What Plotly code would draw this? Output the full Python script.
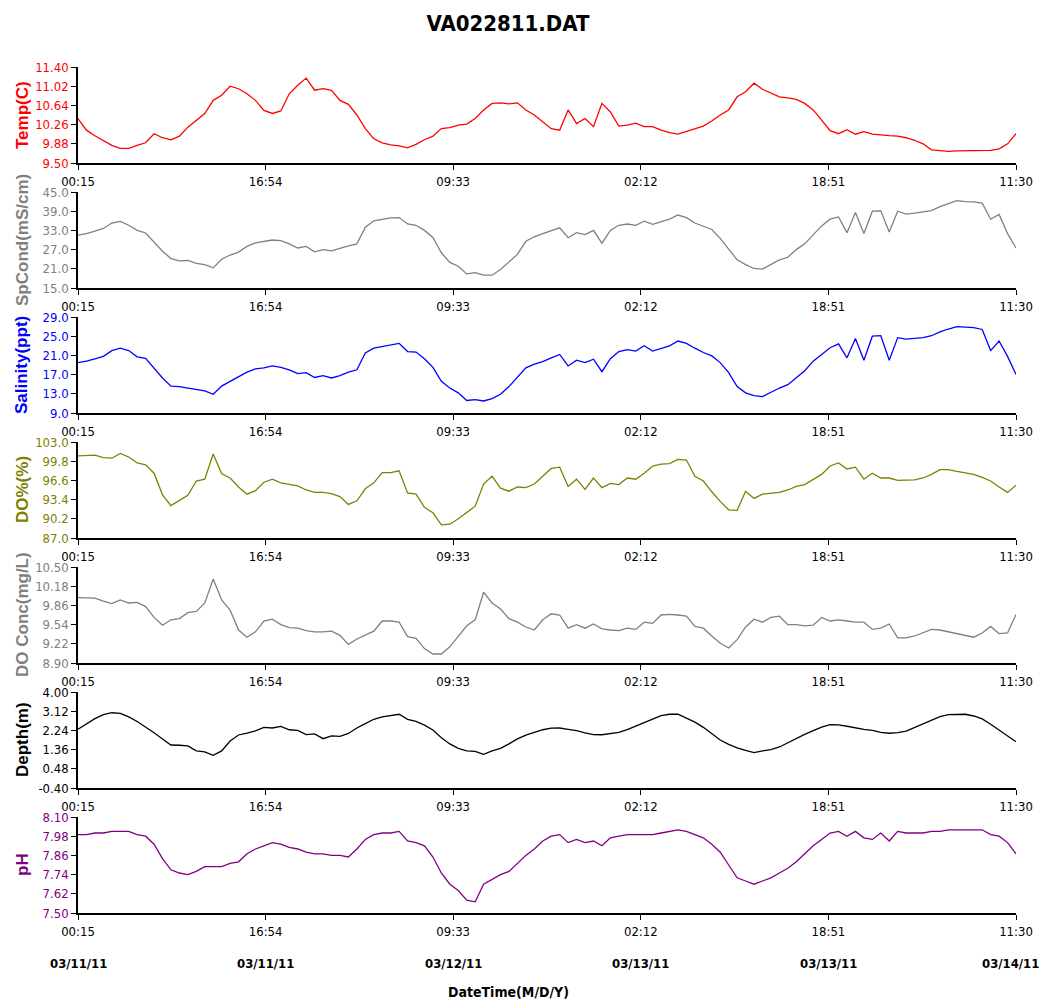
import pandas as pd
import plotly.graph_objects as go

START = "2011-03-11 00:15"
END = "2011-03-14 11:30"
TIME_LABELS = ["00:15", "16:54", "09:33", "02:12", "18:51", "11:30"]
DATE_LABELS = ["03/11/11", "03/11/11", "03/12/11", "03/13/11", "03/13/11", "03/14/11"]

temp = [10.38, 10.15, 10.04, 9.94, 9.85, 9.79, 9.79, 9.85, 9.90, 10.08,
        10.00, 9.96, 10.03, 10.21, 10.34, 10.48, 10.74, 10.84, 11.02, 10.97,
        10.87, 10.74, 10.54, 10.48, 10.53, 10.87, 11.04, 11.18, 10.94, 10.97,
        10.94, 10.74, 10.66, 10.45, 10.18, 9.98, 9.90, 9.86, 9.84, 9.80,
        9.87, 9.96, 10.03, 10.18, 10.20, 10.25, 10.27, 10.38, 10.55, 10.68,
        10.69, 10.67, 10.69, 10.55, 10.45, 10.31, 10.18, 10.15, 10.55, 10.28,
        10.38, 10.22, 10.68, 10.51, 10.23, 10.25, 10.29, 10.22, 10.22, 10.15,
        10.10, 10.07, 10.12, 10.18, 10.23, 10.33, 10.45, 10.55, 10.81, 10.91,
        11.08, 10.96, 10.88, 10.81, 10.79, 10.76, 10.68, 10.55, 10.35, 10.14,
        10.08, 10.16, 10.07, 10.12, 10.07, 10.05, 10.04, 10.03, 10.00, 9.95,
        9.88, 9.76, 9.75, 9.73, 9.74, 9.74, 9.75, 9.75, 9.75, 9.78, 9.88, 10.08]

sp_cond = [31.5, 32.0, 32.8, 33.6, 35.3, 35.8, 34.6, 33.0, 32.2, 29.5,
           26.5, 24.2, 23.5, 23.6, 22.7, 22.3, 21.3, 24.0, 25.3, 26.2,
           28.0, 29.1, 29.5, 30.0, 29.8, 28.8, 27.5, 28.0, 26.3, 27.0,
           26.6, 27.5, 28.2, 28.8, 34.0, 36.0, 36.5, 36.9, 37.0, 35.0,
           34.6, 33.0, 30.8, 26.0, 23.0, 21.8, 19.4, 19.8, 19.0, 19.0,
           20.8, 23.3, 25.5, 29.6, 31.0, 32.0, 33.0, 33.8, 30.7, 32.3,
           31.7, 33.0, 29.0, 33.0, 34.6, 35.0, 34.6, 35.9, 34.9, 35.6,
           36.5, 37.8, 37.0, 35.3, 34.2, 33.3, 30.5, 27.0, 23.8, 22.3,
           21.1, 20.9, 22.3, 23.8, 24.6, 27.0, 28.8, 31.5, 34.4, 36.5,
           37.2, 32.3, 38.6, 32.0, 39.0, 39.1, 32.5, 39.0, 38.1, 38.4,
           38.9, 39.2, 40.4, 41.3, 42.3, 42.0, 41.9, 41.5, 36.5, 38.0, 32.0, 27.5]

salinity = [19.5, 19.8, 20.3, 20.8, 22.0, 22.5, 22.0, 20.7, 20.4, 18.3,
            16.3, 14.6, 14.5, 14.2, 13.9, 13.6, 12.9, 14.6, 15.6, 16.5,
            17.5, 18.2, 18.4, 18.8, 18.5, 18.0, 17.2, 17.4, 16.4, 16.8,
            16.3, 16.8, 17.5, 18.0, 21.5, 22.5, 22.8, 23.2, 23.5, 21.8,
            21.7, 20.3, 18.5, 15.6, 14.2, 13.2, 11.6, 11.8, 11.5, 12.0,
            12.9, 14.5, 16.5, 18.4, 19.2, 19.7, 20.5, 21.2, 18.8, 20.0,
            19.5, 20.2, 17.6, 20.3, 21.8, 22.2, 21.9, 23.0, 21.9, 22.4,
            23.0, 24.0, 23.5, 22.5, 21.6, 20.9, 19.5, 17.4, 14.5, 13.2,
            12.6, 12.4, 13.3, 14.2, 14.9, 16.3, 17.8, 19.8, 21.2, 22.6,
            23.4, 20.5, 24.5, 20.0, 25.0, 25.1, 20.0, 24.7, 24.4, 24.5,
            24.7, 25.1, 25.9, 26.5, 27.0, 26.9, 26.8, 26.4, 22.0, 24.0, 20.8, 17.0]

do_pct = [100.7, 100.7, 100.8, 100.4, 100.3, 101.1, 100.5, 99.5, 99.2, 97.8,
          94.2, 92.4, 93.2, 94.1, 96.5, 96.8, 101.0, 97.7, 97.0, 95.5,
          94.3, 94.9, 96.3, 96.8, 96.2, 95.9, 95.7, 95.0, 94.6, 94.6,
          94.4, 93.9, 92.6, 93.2, 95.2, 96.2, 97.9, 97.9, 98.2, 94.5,
          94.3, 92.1, 91.2, 89.2, 89.3, 90.2, 91.2, 92.3, 96.0, 97.3,
          95.3, 94.8, 95.5, 95.4, 96.0, 97.3, 98.6, 98.8, 95.6, 96.8,
          95.1, 97.0, 95.4, 96.1, 95.9, 97.0, 96.8, 97.8, 99.0, 99.3,
          99.4, 100.1, 100.0, 97.3, 96.5, 94.7, 93.1, 91.7, 91.6, 94.8,
          93.6, 94.3, 94.5, 94.6, 95.0, 95.6, 95.9, 96.8, 97.6, 99.0,
          99.5, 98.5, 98.8, 96.8, 97.8, 97.0, 97.0, 96.6, 96.6, 96.7,
          97.0, 97.6, 98.4, 98.4, 98.1, 97.9, 97.6, 97.1, 96.5, 95.5, 94.6, 95.8]

do_conc = [9.99, 9.99, 9.98, 9.93, 9.89, 9.95, 9.90, 9.91, 9.84, 9.66,
           9.53, 9.62, 9.64, 9.74, 9.76, 9.90, 10.30, 9.95, 9.78, 9.45,
           9.33, 9.42, 9.60, 9.63, 9.54, 9.49, 9.48, 9.44, 9.42, 9.42,
           9.43, 9.36, 9.21, 9.30, 9.36, 9.43, 9.60, 9.60, 9.58, 9.34,
           9.31, 9.14, 9.05, 9.05, 9.17, 9.35, 9.52, 9.62, 10.08, 9.90,
           9.80, 9.64, 9.58, 9.50, 9.45, 9.62, 9.72, 9.70, 9.48, 9.54,
           9.48, 9.55, 9.47, 9.45, 9.44, 9.48, 9.46, 9.58, 9.56, 9.70,
           9.71, 9.70, 9.68, 9.51, 9.48, 9.35, 9.23, 9.15, 9.29, 9.50,
           9.63, 9.58, 9.66, 9.68, 9.54, 9.54, 9.52, 9.53, 9.66, 9.60,
           9.62, 9.60, 9.58, 9.58, 9.46, 9.48, 9.55, 9.32, 9.32, 9.35,
           9.40, 9.46, 9.45, 9.42, 9.40, 9.36, 9.33, 9.40, 9.51, 9.39, 9.40, 9.71]

depth = [2.29, 2.55, 2.78, 2.96, 3.05, 3.02, 2.86, 2.65, 2.41, 2.13,
         1.85, 1.57, 1.56, 1.53, 1.30, 1.26, 1.10, 1.30, 1.75, 2.03,
         2.12, 2.22, 2.38, 2.35, 2.42, 2.27, 2.24, 2.05, 2.08, 1.86,
         1.99, 1.97, 2.10, 2.35, 2.55, 2.75, 2.86, 2.92, 2.98, 2.75,
         2.65, 2.48, 2.26, 1.90, 1.62, 1.42, 1.30, 1.28, 1.14, 1.30,
         1.42, 1.62, 1.85, 2.02, 2.16, 2.27, 2.34, 2.35, 2.29, 2.23,
         2.13, 2.05, 2.04, 2.08, 2.15, 2.28, 2.43, 2.60, 2.76, 2.92,
         2.98, 2.99, 2.82, 2.62, 2.38, 2.08, 1.80, 1.60, 1.44, 1.32,
         1.22, 1.30, 1.36, 1.48, 1.68, 1.88, 2.06, 2.23, 2.39, 2.50,
         2.49, 2.43, 2.35, 2.29, 2.24, 2.15, 2.11, 2.14, 2.21, 2.37,
         2.53, 2.68, 2.87, 2.96, 2.98, 2.98, 2.90, 2.77, 2.52, 2.25, 2.00, 1.72]

ph = [7.99, 7.99, 8.00, 8.00, 8.01, 8.01, 8.01, 7.99, 7.98, 7.93,
      7.84, 7.77, 7.75, 7.74, 7.76, 7.79, 7.79, 7.79, 7.81, 7.82,
      7.87, 7.90, 7.92, 7.94, 7.93, 7.91, 7.90, 7.88, 7.87, 7.87,
      7.86, 7.86, 7.85, 7.90, 7.96, 7.99, 8.00, 8.00, 8.01, 7.95,
      7.94, 7.92, 7.85, 7.75, 7.68, 7.64, 7.58, 7.57, 7.68, 7.71,
      7.74, 7.76, 7.81, 7.86, 7.90, 7.95, 7.98, 7.99, 7.94, 7.96,
      7.94, 7.95, 7.92, 7.97, 7.98, 7.99, 7.99, 7.99, 7.99, 8.00,
      8.01, 8.02, 8.01, 7.99, 7.97, 7.93, 7.88, 7.80, 7.72, 7.70,
      7.68, 7.70, 7.72, 7.75, 7.78, 7.82, 7.87, 7.92, 7.96, 8.00,
      8.01, 7.98, 8.01, 7.97, 7.96, 8.00, 7.95, 8.01, 8.00, 8.00,
      8.00, 8.01, 8.01, 8.02, 8.02, 8.02, 8.02, 8.02, 7.99, 7.98, 7.94, 7.87]

Y_TITLES = ["Temp(C)", "SpCond(mS/cm)", "Salinity(ppt)", "DO%(%)", "DO Conc(mg/L)", "Depth(m)", "pH"]
Y_TICKS = [
    ["9.50", "9.88", "10.26", "10.64", "11.02", "11.40"],
    ["15.0", "21.0", "27.0", "33.0", "39.0", "45.0"],
    ["9.0", "13.0", "17.0", "21.0", "25.0", "29.0"],
    ["87.0", "90.2", "93.4", "96.6", "99.8", "103.0"],
    ["8.90", "9.22", "9.54", "9.86", "10.18", "10.50"],
    ["-0.40", "0.48", "1.36", "2.24", "3.12", "4.00"],
    ["7.50", "7.62", "7.74", "7.86", "7.98", "8.10"],
]
SERIES = [temp, sp_cond, salinity, do_pct, do_conc, depth, ph]
COLORS = ["#FF0000", "#808080", "#0000FF", "#808000", "#808080", "#000000", "#800080"]

FONT = "DejaVu Sans Condensed, Liberation Sans Narrow, Arial Narrow, sans-serif"
TITLE_FONT = "Liberation Sans, Arial, sans-serif"
W, H = 1040, 1008
ML, MR, MT, MB = 78, 24, 67, 95
PH = H - MT - MB
PW = W - ML - MR
panel_h, panel_step = 96, 125

tick_times = pd.date_range(START, END, periods=len(TIME_LABELS))

fig = go.Figure()
layout = dict(
    width=W, height=H, margin=dict(l=ML, r=MR, t=MT, b=MB, autoexpand=False),
    paper_bgcolor="white", plot_bgcolor="white", showlegend=False,
    font=dict(family=FONT, color="black"),
    title=dict(text="<b>VA022811.DAT</b>", x=508 / W, xref="container", xanchor="center",
               y=1 - 23 / H, yref="container", yanchor="middle",
               font=dict(family=FONT, size=22, color="black")),
)
annotations = []
for k, (vals, color, ticks, ytitle) in enumerate(zip(SERIES, COLORS, Y_TICKS, Y_TITLES)):
    n = k + 1
    xs = pd.date_range(START, END, periods=len(vals))
    fig.add_trace(go.Scatter(x=xs, y=vals, mode="lines", line=dict(color=color, width=1.3),
                             xaxis=f"x{n}", yaxis=f"y{n}", hoverinfo="skip"))
    top_px = MT + panel_step * k
    bot_px = top_px + panel_h
    y0 = (H - MB - bot_px) / PH
    y1 = (H - MB - top_px) / PH
    tv = [float(t) for t in ticks]
    layout[f"xaxis{n}"] = dict(
        domain=[0, 1], anchor=f"y{n}", type="date", automargin=False,
        range=[pd.Timestamp(START), pd.Timestamp(END)],
        tickvals=list(tick_times), ticktext=TIME_LABELS,
        showline=True, linecolor="black", linewidth=2, mirror=False,
        ticks="outside", ticklen=5, tickwidth=1, tickcolor="black",
        showgrid=False, zeroline=False,
        tickfont=dict(family=FONT, size=13, color="black"),
    )
    layout[f"yaxis{n}"] = dict(
        domain=[y0, y1], anchor=f"x{n}", range=[tv[0], tv[-1]], automargin=False,
        tickvals=tv, ticktext=ticks,
        showline=True, linecolor="black", linewidth=1.5,
        ticks="outside", ticklen=5, tickwidth=1, tickcolor="black",
        showgrid=False, zeroline=False,
        tickfont=dict(family=FONT, size=13, color=color),
    )
    annotations.append(dict(
        text=f"<b>{ytitle}</b>", textangle=-90, xref="paper", yref="paper",
        x=(22 - ML) / PW, y=(y0 + y1) / 2, xanchor="center", yanchor="middle",
        showarrow=False, font=dict(family=TITLE_FONT, size=17, color=color),
    ))

for i, (t, lab) in enumerate(zip(tick_times, DATE_LABELS)):
    annotations.append(dict(
        text=f"<b>{lab}</b>", xref="x7", yref="paper", x=t, y=-(963 - (H - MB)) / PH,
        xanchor="center", yanchor="middle", showarrow=False,
        xshift=-6 if i == len(DATE_LABELS) - 1 else 0,
        font=dict(family=FONT, size=13, color="black"),
    ))
annotations.append(dict(
    text="<b>DateTime(M/D/Y)</b>", xref="paper", yref="paper",
    x=(508 - ML) / PW, y=-(992 - (H - MB)) / PH,
    xanchor="center", yanchor="middle", showarrow=False,
    font=dict(family=FONT, size=14, color="black"),
))
layout["annotations"] = annotations
fig.update_layout(**layout)
fig.write_html("out.html", config={"displayModeBar": False},
               post_script="document.body.style.margin='0px';document.body.style.overflow='hidden';")
